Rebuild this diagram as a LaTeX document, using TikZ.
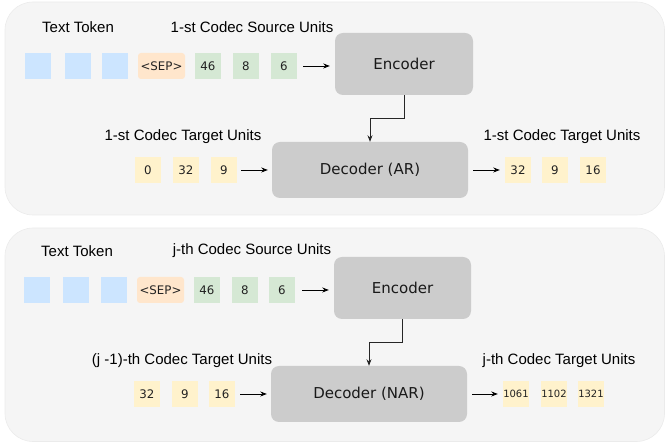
\documentclass[tikz,border=0pt]{standalone}
\usepackage{fontspec}
\setmainfont{Liberation Sans}
\newfontfamily\dvfont{DejaVu Sans}
\usetikzlibrary{arrows.meta,calc}
\definecolor{panelbg}{HTML}{F5F5F5}
\definecolor{panelln}{HTML}{EBEBEB}
\definecolor{tokblue}{HTML}{CCE5FF}
\definecolor{tokorange}{HTML}{FFE6CC}
\definecolor{tokgreen}{HTML}{D5E8D4}
\definecolor{tokyellow}{HTML}{FFF2CC}
\definecolor{blockgray}{HTML}{CCCCCC}
\definecolor{tokt}{HTML}{222222}
\tikzset{
  panel/.style={fill=panelbg,draw=panelln,line width=0.6pt,rounded corners=28pt},
  tok/.style={minimum width=26pt,minimum height=26pt,inner sep=0pt,font=\dvfont\fontsize{11.8}{13}\selectfont,text=tokt},
  blue/.style={tok,fill=tokblue},
  sep/.style={tok,fill=tokorange,minimum width=47pt,rounded corners=3pt},
  green/.style={tok,fill=tokgreen},
  yel/.style={tok,fill=tokyellow},
  yelsmall/.style={yel,font=\dvfont\fontsize{10}{11}\selectfont},
  block/.style={fill=blockgray,rounded corners=8pt,inner sep=0pt,font=\dvfont\fontsize{15}{18}\selectfont,text=black!90},
  lbl/.style={font=\fontsize{15}{18}\selectfont,inner sep=0pt},
  arr/.style={-{Stealth[length=6.5pt,width=5pt]},line width=0.8pt,black},
  carr/.style={-{Stealth[length=6.5pt,width=5pt]},line width=0.8pt,black!85}
}
\begin{document}
\begin{tikzpicture}[x=1pt,y=-1pt]
\useasboundingbox (0,0) rectangle (665,443);
% panels
\path[panel] (5,2) rectangle (664.5,215);
\path[panel] (5,228) rectangle (664.5,441.5);

% ---------- top panel ----------
\node[lbl] (tt1) at (78,27) {Text Token};
\node[lbl] (src1) at (252,27) {1-st Codec Source Units};
\node[blue] (b11) at (38,66) {};
\node[blue] (b12) at (78,66) {};
\node[blue] (b13) at (115,66) {};
\node[sep] (s1) at (161.5,66) {<SEP>};
\node[green] (g11) at (208,66) {46};
\node[green] (g12) at (246,66) {8};
\node[green] (g13) at (284,66) {6};
\node[block,minimum width=138pt,minimum height=62pt] (enc1) at (404,64) {Encoder};
\node[block,minimum width=196pt,minimum height=56pt] (dec1) at (370,170) {Decoder (AR)};
\node[lbl] (tgt1) at (183,137) {1-st Codec Target Units};
\node[yel] (y11) at (148,170) {0};
\node[yel] (y12) at (186,170) {32};
\node[yel] (y13) at (224,170) {9};
\node[lbl] (out1) at (562,137) {1-st Codec Target Units};
\node[yel] (o11) at (518,170) {32};
\node[yel] (o12) at (555,170) {9};
\node[yel] (o13) at (593,170) {16};
\draw[arr,shorten <=6pt,shorten >=5pt] (g13.east) -- (enc1.west|-g13.east);
\draw[arr,shorten <=4pt,shorten >=4pt] (y13.east) -- (dec1.west|-y13.east);
\draw[arr,shorten <=5pt,shorten >=5pt] (dec1.east|-o11.west) -- (o11.west);
\draw[carr] (enc1.south) |- ($(enc1.south)!0.5!(dec1.north)$) -| (dec1.north);

% ---------- bottom panel ----------
\node[lbl] (tt2) at (77,251) {Text Token};
\node[lbl] (src2) at (252,251) {j-th Codec Source Units};
\node[blue] (b21) at (37,290) {};
\node[blue] (b22) at (76,290) {};
\node[blue] (b23) at (114,290) {};
\node[sep] (s2) at (160.5,290) {<SEP>};
\node[green] (g21) at (207,290) {46};
\node[green] (g22) at (245,290) {8};
\node[green] (g23) at (282,290) {6};
\node[block,minimum width=137pt,minimum height=62pt] (enc2) at (402.5,288) {Encoder};
\node[block,minimum width=196pt,minimum height=56pt] (dec2) at (369,394) {Decoder (NAR)};
\node[lbl] (tgt2) at (182,361) {(j -1)-th Codec Target Units};
\node[yel] (y21) at (147,394) {32};
\node[yel] (y22) at (185,394) {9};
\node[yel] (y23) at (222,394) {16};
\node[lbl] (out2) at (559,361) {j-th Codec Target Units};
\node[yelsmall] (o21) at (516,394) {1061};
\node[yelsmall] (o22) at (554,394) {1102};
\node[yelsmall] (o23) at (591,394) {1321};
\draw[arr,shorten <=7pt,shorten >=5pt] (g23.east) -- (enc2.west|-g23.east);
\draw[arr,shorten <=5pt,shorten >=4pt] (y23.east) -- (dec2.west|-y23.east);
\draw[arr,shorten <=5pt,shorten >=5pt] (dec2.east|-o21.west) -- (o21.west);
\draw[carr] (enc2.south) |- ($(enc2.south)!0.5!(dec2.north)$) -| (dec2.north);
\end{tikzpicture}
\end{document}
